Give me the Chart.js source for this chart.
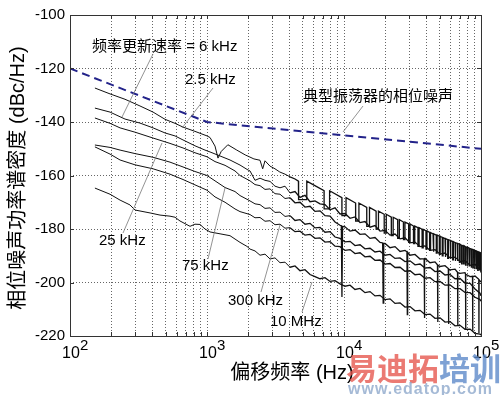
<!DOCTYPE html>
<html><head><meta charset="utf-8">
<script src="https://cdn.jsdelivr.net/npm/chart.js@4.4.1/dist/chart.umd.min.js"></script>
<style>html,body{margin:0;padding:0;background:#fff;}canvas{display:block;}</style>
</head><body>
<canvas id="c" width="500" height="395"></canvas>
<script>
// ---------------- data ----------------
const xTicks = [100,200,300,400,500,600,700,800,900,1000,2000,3000,4000,5000,6000,7000,8000,9000,10000,20000,30000,40000,50000,60000,70000,80000,90000,100000];
const xMajor = [100,1000,10000,100000];
const xExp = ['2','3','4','5'];
const yTicks = [-220,-200,-180,-160,-140,-120,-100];

// typical oscillator phase noise (dashed)
const oscFreq = [100,1000,100000];
const oscVal  = [-120,-140,-150];

// 2.5 kHz update rate (top trace)
const l1Freq = [152,196,252,324,404,494,584,668,817,1000,1052,1144,1203,1270,1420,1650,1900,2200,2438,2550,2650,2884,3136,3400,3711,4036,4389];
const l1Val  = [-127.3,-129.5,-131.5,-134,-136.3,-139,-140.5,-141.9,-143.5,-145.2,-145.8,-149,-153.5,-151,-148.5,-150.5,-152.3,-153.8,-154.3,-157.5,-154.5,-156.5,-157.5,-158.7,-159.5,-160.5,-161.3];
const combFreq = [5000,7500,10000,12500,15000,17500,20000,22500,25000,27500,30000,32500,35000,37500,40000,42500,45000,47500,50000,52500,55000,57500,60000,62500,65000,67500,70000,72500,75000,77500,80000,82500,85000,87500,90000,92500,95000,97500,100000];
const combTop = [-162.1,-165.7,-168.3,-170.3,-171.9,-173.3,-174.5,-175.6,-176.5,-177.4,-178.1,-178.9,-179.5,-180.1,-180.7,-181.3,-181.8,-182.3,-182.7,-183.2,-183.6,-184.0,-184.3,-184.7,-185.1,-185.4,-185.7,-186.1,-186.3,-186.7,-186.9,-187.2,-187.5,-187.7,-188.0,-188.2,-188.5,-188.7,-188.9];
const combBottom = [-169,-172.5,-175,-177,-179,-180,-181.5,-182.5,-183.5,-184,-185,-185.5,-186.5,-187,-187.5,-188,-188.5,-189,-189.5,-190,-190.5,-191,-191,-191.5,-192,-192,-192.5,-193,-193,-193.5,-194,-194,-194.5,-194.5,-195,-195,-195.5,-195.5,-196];

// shared offset grid (Hz) for the noisy high-offset part of the other traces
const hiFreq = [2061,2241,2438,2651,2884,3136,3412,3711,4036,4389,4775,5192,5649,6142,6683,7267,7907,8598,9354,10170,11070,12030,13090,14230,15490,16840,18320,19930,21680,23570,25650,27880,30340,32980,35890,39020,42460,46160,50230,54610,59430,64600,70310,76420,83180,90410,98400,100000];

// 6 kHz
const l2LowFreq = [152,196,252,324,404,494,584,668,817,967,1052,1245,1472,1742,2000];
const l2LowVal  = [-134.8,-136.3,-138.9,-140.4,-142.2,-144.1,-145.2,-146.7,-148.9,-150.5,-151.2,-152.7,-154.2,-156.1,-158.0];
const l2HiVal = [-158.3,-161.8,-161.0,-161.8,-162.2,-164.0,-164.6,-164.0,-166.5,-166.0,-168.2,-167.4,-169.8,-169.5,-170.6,-170.9,-172.8,-172.1,-174.4,-174.2,-176.0,-175.5,-177.6,-177.2,-179.3,-178.7,-180.8,-180.5,-182.3,-181.9,-183.7,-183.3,-185.2,-184.9,-186.6,-186.3,-188.0,-187.7,-189.4,-189.0,-190.8,-190.5,-192.2,-191.8,-193.6,-193.2,-195.2,-194.8];

// 25 kHz (with deep spurs)
const l3LowFreq = [152,196,232,298,404,537,668,817,1000,1144,1354,1601,1742];
const l3LowVal  = [-138.5,-140.5,-142.2,-143.8,-146,-148,-149.7,-151.5,-153,-154.8,-156.2,-158.3,-160];
const l3HiVal = [-162.0,-163.4,-163.8,-165.2,-165.0,-166.8,-167.0,-168.6,-168.3,-170.2,-170.0,-171.8,-171.5,-173.4,-173.2,-175.0,-175.2,-177.4,-178.6,-179.2,-180.8,-180.4,-182.0,-181.8,-183.5,-183.2,-185.0,-185.4,-187.0,-186.6,-188.4,-188.0,-189.8,-189.5,-191.2,-191.0,-192.6,-192.3,-194.0,-193.7,-195.3,-195.0,-196.6,-196.3,-197.8,-197.6,-199.4,-199.8];
const l3SpurFreq = [9560,9660,9760,19150,19320,19500,28800,28980,29150,38450,38640,38830,48100,48300,48500,57750,57960,58150,67400,67620,67850,77050,77280,77500,86700,86940,87200,96350,96600,96850];
const l3SpurVal  = [-178.8,-205.4,-179.0,-185.2,-207.7,-185.3,-188.5,-212,-188.7,-191.1,-213.3,-191.1,-193.4,-214.8,-193.5,-194.8,-215.5,-195.0,-196.2,-216.3,-196.3,-196.8,-217.5,-196.9,-197.7,-218,-197.8,-198.8,-218.9,-199.0];

// 75 kHz
const l4LowFreq = [152,196,232,298,404,537,668,817,1000,1144,1354,1601,1742];
const l4LowVal  = [-148.6,-149.5,-150.5,-151.8,-153.2,-155,-156.8,-158.5,-160,-162,-164.5,-166,-167.5];
const l4HiVal = [-169.5,-170.6,-170.9,-172.3,-172.1,-173.8,-173.7,-175.3,-175.0,-176.8,-176.5,-178.2,-177.9,-179.6,-179.4,-181.2,-181.0,-183.0,-183.5,-184.8,-184.6,-186.2,-185.9,-187.4,-187.2,-188.6,-188.3,-189.8,-189.5,-191.0,-190.8,-192.2,-191.9,-193.4,-193.1,-194.6,-194.4,-195.9,-195.7,-197.2,-197.0,-198.6,-198.5,-200.2,-200.3,-202.4,-204.0,-205.0];

// 300 kHz
const l5LowFreq = [152,196,232,298,404,537,668,817,1000,1144,1354,1601,1742];
const l5LowVal  = [-149.3,-152,-154.2,-156,-157.5,-159.5,-161.5,-163.5,-165.5,-168,-170,-172.5,-173.5];
const l5HiVal = [-174.6,-175.8,-175.7,-177.1,-176.9,-178.4,-178.2,-179.7,-179.5,-181.0,-180.8,-182.3,-182.0,-183.5,-183.3,-184.9,-184.7,-186.4,-186.6,-188.0,-187.7,-189.2,-188.9,-190.4,-190.2,-191.7,-191.6,-193.1,-192.9,-194.4,-194.3,-195.8,-195.6,-197.1,-196.9,-198.4,-198.2,-199.7,-199.6,-201.0,-200.9,-202.3,-202.3,-203.7,-203.8,-205.5,-206.4,-207.0];

// 10 MHz
const l6LowFreq = [152,196,232,274,298,384,454,537,584,635,752,817,889,967,1052,1245,1472,1742,1958];
const l6LowVal  = [-164.7,-167,-169.2,-171,-172.9,-174,-174.8,-175.2,-175.6,-177,-179,-178.2,-178.3,-180,-181.1,-181.8,-182.5,-185,-186.5];
const l6HiVal = [-187.5,-188.2,-189.8,-189.4,-191.2,-190.8,-192.6,-192.4,-194.3,-193.8,-195.6,-195.2,-197.0,-197.8,-198.6,-198.2,-199.6,-199.3,-200.5,-201.4,-201.0,-202.6,-202.2,-203.8,-203.4,-205.0,-204.8,-206.4,-206.1,-207.8,-207.6,-209.2,-209.0,-210.6,-210.4,-212.0,-211.8,-213.4,-213.2,-214.8,-214.6,-216.2,-216.0,-217.5,-217.4,-219.0,-219.3,-219.6];

// ---------------- build ----------------
const NOTCH_HALF = 350; // Hz, drawn half-width of a comb notch
const pts = (fs, vs) => fs.map((f, i) => ({x: f, y: vs[i]}));
const byX = (a, b) => a.x - b.x;
const l1Pts = pts(l1Freq, l1Val);
combFreq.forEach((f, i) => {
  l1Pts.push({x: f - NOTCH_HALF, y: combTop[i]}, {x: f - NOTCH_HALF + 10, y: combBottom[i]},
             {x: f + NOTCH_HALF - 10, y: combBottom[i]}, {x: f + NOTCH_HALF, y: combTop[i]});
});
l1Pts.sort(byX);
const joined = (lf, lv, hv, extra) => pts(lf, lv).concat(pts(hiFreq, hv), extra || []).sort(byX);

const trace = (data) => ({
  data, borderColor: '#111', borderWidth: 1, pointRadius: 0, fill: false, tension: 0,
  segment: {borderWidth: ctx => (ctx.p0.parsed.x > 4000 ? 1.3 : 1)}
});
const datasets = [
  trace(l1Pts),
  trace(joined(l2LowFreq, l2LowVal, l2HiVal)),
  trace(joined(l3LowFreq, l3LowVal, l3HiVal, pts(l3SpurFreq, l3SpurVal))),
  trace(joined(l4LowFreq, l4LowVal, l4HiVal)),
  trace(joined(l5LowFreq, l5LowVal, l5HiVal)),
  trace(joined(l6LowFreq, l6LowVal, l6HiVal)),
  {data: pts(oscFreq, oscVal), borderColor: '#23238a', borderWidth: 2, borderDash: [8, 5], pointRadius: 0, fill: false, tension: 0}
];

const LAT = '"Liberation Sans", "Noto Sans CJK SC", sans-serif';

const annotations = [
  {text: '频率更新速率 = 6 kHz', x: 92, y: 47, from: [153, 54], to: [122, 117]},
  {text: '2.5 kHz', x: 185, y: 80, from: [213, 88], to: [182, 128]},
  {text: '典型振荡器的相位噪声', x: 303, y: 97, from: [363, 106], to: [343, 132]},
  {text: '25 kHz', x: 99, y: 241, from: [123, 233], to: [162, 143]},
  {text: '75 kHz', x: 182, y: 266, from: [208, 259], to: [225, 188]},
  {text: '300 kHz', x: 228, y: 301, from: [261, 292], to: [280, 225]},
  {text: '10 MHz', x: 270, y: 322, from: [302, 312], to: [312, 282]}
];

const decor = {
  id: 'decor',
  beforeDraw(chart) {
    const c = chart.ctx;
    c.save(); c.fillStyle = '#fff'; c.fillRect(0, 0, chart.width, chart.height); c.restore();
  },
  afterDatasetsDraw(chart) {
    const c = chart.ctx, a = chart.chartArea, xs = chart.scales.x, ys = chart.scales.y;
    c.save();
    c.strokeStyle = '#333'; c.lineWidth = 1; c.setLineDash([]);
    c.strokeRect(Math.round(a.left) + 0.5, Math.round(a.top) + 0.5, Math.round(a.right - a.left), Math.round(a.bottom - a.top));
    xTicks.forEach(v => {
      const px = Math.round(xs.getPixelForValue(v)) + 0.5;
      c.beginPath(); c.moveTo(px, a.bottom); c.lineTo(px, a.bottom - 4); c.moveTo(px, a.top); c.lineTo(px, a.top + 4); c.stroke();
    });
    yTicks.forEach(v => {
      const py = Math.round(ys.getPixelForValue(v)) + 0.5;
      c.beginPath(); c.moveTo(a.left, py); c.lineTo(a.left + 4, py); c.moveTo(a.right, py); c.lineTo(a.right - 4, py); c.stroke();
    });
    c.fillStyle = '#000'; c.textBaseline = 'alphabetic';
    xMajor.forEach((v, i) => {
      const px = xs.getPixelForValue(v);
      c.font = '16px ' + LAT; c.textAlign = 'center';
      c.fillText('10', px + 1, 358);
      const w = c.measureText('10').width;
      c.font = '15px ' + LAT; c.textAlign = 'left';
      c.fillText(xExp[i], px + 1 + w / 2, 350);
    });
    c.font = '20px ' + LAT; c.textAlign = 'center'; c.textBaseline = 'middle';
    c.fillText('偏移频率 (Hz)', 292, 373);
    c.save(); c.translate(18, 178); c.rotate(-Math.PI / 2);
    c.fillText('相位噪声功率谱密度 (dBc/Hz)', 0, 0);
    c.restore();
    c.strokeStyle = '#777'; c.lineWidth = 0.8;
    annotations.forEach(an => {
      c.beginPath(); c.moveTo(an.from[0], an.from[1]); c.lineTo(an.to[0], an.to[1]); c.stroke();
      c.font = '15px ' + LAT; c.textAlign = 'left'; c.textBaseline = 'middle'; c.fillStyle = '#000';
      c.fillText(an.text, an.x, an.y);
    });
    c.globalAlpha = 0.78;
    c.font = 'bold 31px "Noto Sans CJK SC", sans-serif'; c.textAlign = 'left'; c.textBaseline = 'alphabetic';
    c.fillStyle = '#e5544c'; c.fillText('易迪拓', 346, 380);
    const w3 = c.measureText('易迪拓').width;
    c.fillStyle = '#5a86c8'; c.fillText('培训', 346 + w3, 380);
    c.font = 'bold 16px "Liberation Sans", sans-serif'; c.fillStyle = '#8ca6ca';
    c.letterSpacing = '1px';
    c.fillText('www.edatop.com', 348, 394);
    c.restore();
  }
};

new Chart(document.getElementById('c'), {
  type: 'line',
  data: {datasets},
  options: {
    responsive: false, animation: false, devicePixelRatio: 1,
    layout: {padding: {top: 15, right: 19, left: 0, bottom: 0}},
    plugins: {legend: {display: false}, tooltip: {enabled: false}},
    scales: {
      x: {
        type: 'logarithmic', min: 100, max: 100000,
        afterBuildTicks(s) { s.ticks = xTicks.map(v => ({value: v})); },
        afterFit(s) { s.height = 59; },
        ticks: {display: false},
        grid: {display: true, drawTicks: false, color: '#666', lineWidth: 1},
        border: {display: false, dash: [1, 2]}
      },
      y: {
        type: 'linear', min: -220, max: -100,
        afterBuildTicks(s) { s.ticks = yTicks.map(v => ({value: v})); },
        afterFit(s) { s.width = 70; },
        ticks: {color: '#000', padding: 5, font: {size: 15, family: '"Liberation Sans", sans-serif'}},
        grid: {display: true, drawTicks: false, color: '#666', lineWidth: 1},
        border: {display: false, dash: [1, 2]}
      }
    }
  },
  plugins: [decor]
});
</script>
</body></html>
